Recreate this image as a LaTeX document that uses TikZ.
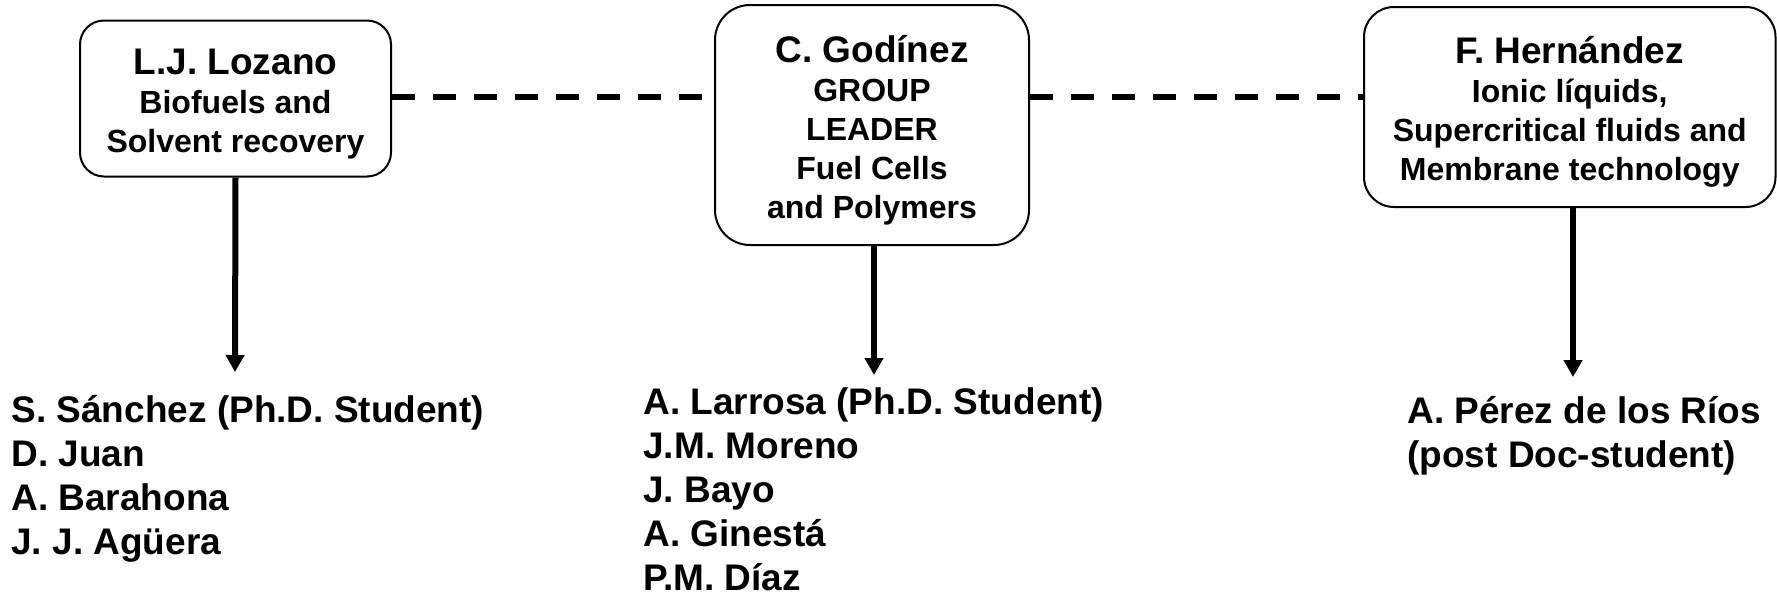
\documentclass[tikz,border=0pt]{standalone}
\usepackage{fontspec}
\setmainfont{Liberation Sans}
\usetikzlibrary{arrows.meta}
\newcommand\nmfont{\fontsize{18.5pt}{19.5pt}\selectfont}
\begin{document}
\begin{tikzpicture}[x=0.5pt,y=-0.5pt,
  box/.style={draw, line width=1pt, inner sep=0pt},
  boxtext/.style={anchor=base, align=center, inner sep=0pt,
    font=\fontsize{16pt}{19.5pt}\selectfont\bfseries},
  listtext/.style={anchor=base west, align=left, inner sep=0pt,
    font=\fontsize{18.5pt}{22pt}\selectfont\bfseries},
  dashline/.style={line width=3pt, dash pattern=on 11.5pt off 9pt},
  arr/.style={line width=3pt, -{Triangle[width=9pt,length=8.5pt]}}]
\fill[white] (0,0) rectangle (1777,595);
\useasboundingbox (0,0) rectangle (1777,595);

\node[box, minimum width=155.5pt, minimum height=78pt, rounded corners=12pt] (b1) at (235.5,98.5) {};
\node[box, minimum width=157pt, minimum height=120pt, rounded corners=17.5pt] (b2) at (872,125) {};
\node[box, minimum width=205.75pt, minimum height=100pt, rounded corners=15pt] (b3) at (1569.75,107) {};

\node[boxtext] (t1) at (235.5,152) {{\nmfont L.J. Lozano}\\Biofuels and\\Solvent recovery};
\node[boxtext] (t2) at (872,218) {{\nmfont C. Godínez}\\GROUP\\LEADER\\Fuel Cells\\and Polymers};
\node[boxtext] (t3) at (1569.75,180) {{\nmfont F. Hernández}\\Ionic líquids,\\Supercritical fluids and\\Membrane technology};

\coordinate (dl) at (0,97);
\draw[dashline] (b1.east |- dl) -- (b2.west |- dl);
\draw[dashline] (b2.east |- dl) -- (b3.west |- dl);

\coordinate (a1) at (235,372);
\coordinate (a2) at (874,375);
\coordinate (a3) at (1573,377);
\draw[arr] (b1.south) -- (a1);
\draw[arr] (b2.south -| a2) -- (a2);
\draw[arr] (b3.south -| a3) -- (a3);

\node[listtext] (l1) at (11,554) {S. Sánchez (Ph.D. Student)\\D. Juan\\A. Barahona\\J. J. Agüera};
\node[listtext] (l2) at (643,590) {A. Larrosa (Ph.D. Student)\\J.M. Moreno\\J. Bayo\\A. Ginestá\\P.M. Díaz};
\node[listtext] (l3) at (1407,467) {A. Pérez de los Ríos\\(post Doc-student)};
\end{tikzpicture}
\end{document}
